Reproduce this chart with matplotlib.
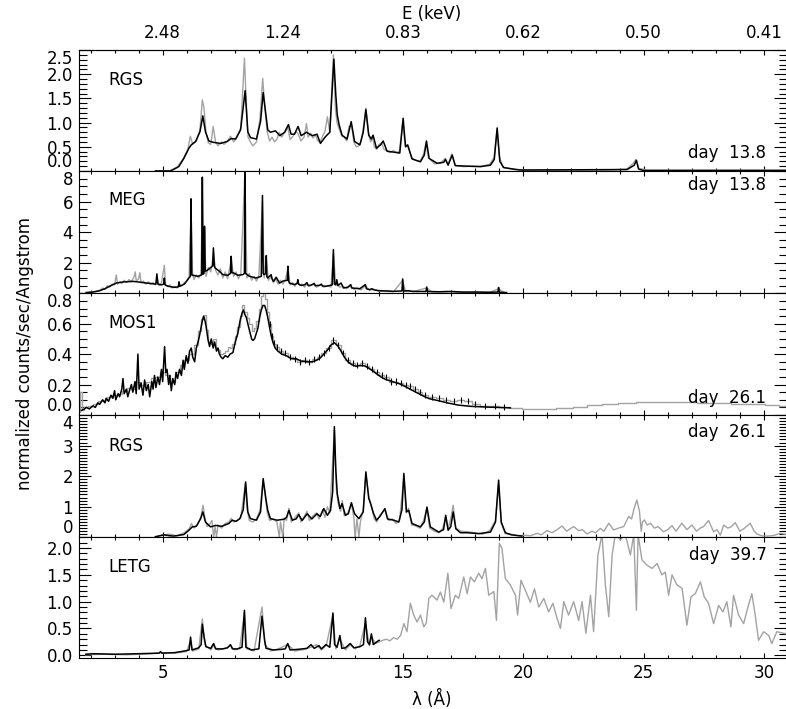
#!/usr/bin/python3
#Stacked X-ray spectra (RGS / MEG / MOS1 / RGS / LETG), wavelength on x, energy on top.

import numpy as np
import matplotlib
matplotlib.use('Agg')
import matplotlib.pyplot as plt
from matplotlib.ticker import MultipleLocator

###########################################################################
#### START - Data (lambda in Angstrom, normalized counts/sec/Angstrom). ####
LAM_LIMITS = (1.5, 30.9)
E_TICK_LAM = [5, 10, 15, 20, 25, 30]
E_TICK_LABELS = ['2.48', '1.24', '0.83', '0.62', '0.50', '0.41']

#Panel #1 : RGS day 13.8
rgs1_black = np.array([
    (4.70, 0.00), (5.33, 0.00), (5.67, 0.09), (5.88, 0.26), (6.09, 0.47), (6.19, 0.54), (6.37, 0.61),
    (6.55, 0.81), (6.67, 1.14), (6.78, 0.81), (6.92, 0.62), (7.13, 0.59), (7.41, 0.57), (7.68, 0.61),
    (7.85, 0.67), (8.03, 0.66), (8.24, 0.85), (8.43, 1.66), (8.54, 0.81), (8.65, 0.69), (8.90, 0.66),
    (9.07, 1.02), (9.18, 1.62), (9.29, 1.17), (9.37, 0.85), (9.48, 0.80), (9.69, 0.83), (9.87, 0.73),
    (10.07, 0.80), (10.23, 0.96), (10.34, 0.76), (10.48, 0.76), (10.63, 0.92), (10.76, 0.73), (10.98, 0.80),
    (11.22, 0.73), (11.42, 0.76), (11.56, 0.57), (11.77, 0.71), (11.95, 0.80), (12.12, 2.31), (12.20, 1.57),
    (12.26, 1.16), (12.34, 0.95), (12.46, 0.74), (12.67, 0.66), (12.84, 1.02), (12.98, 0.61), (13.20, 0.54),
    (13.34, 0.80), (13.45, 1.27), (13.57, 0.74), (13.68, 0.66), (13.75, 0.74), (13.89, 0.47), (14.06, 0.54),
    (14.17, 0.62), (14.33, 0.41), (14.61, 0.39), (14.86, 0.37), (15.00, 1.09), (15.10, 0.50), (15.19, 0.54),
    (15.37, 0.25), (15.72, 0.19), (15.88, 0.33), (15.97, 0.62), (16.08, 0.26), (16.41, 0.16), (16.69, 0.18),
    (16.76, 0.24), (16.87, 0.12), (17.04, 0.33), (17.17, 0.11), (17.66, 0.10), (18.21, 0.09), (18.63, 0.12),
    (18.79, 0.24), (18.91, 0.89), (19.02, 0.20), (19.18, 0.07), (19.87, 0.02), (24.31, 0.03), (24.61, 0.12),
    (24.70, 0.22), (24.79, 0.04), (25.00, 0.01), (30.90, 0.01)])
rgs1_grey = np.array([
    (4.70, 0.00), (5.30, 0.01), (5.60, 0.08), (5.85, 0.25), (6.05, 0.45), (6.15, 0.72), (6.25, 0.55),
    (6.40, 0.62), (6.55, 0.85), (6.65, 1.47), (6.72, 1.30), (6.80, 0.80), (6.90, 0.58), (7.00, 0.55),
    (7.10, 0.92), (7.20, 0.60), (7.30, 0.52), (7.45, 0.60), (7.55, 0.55), (7.70, 0.62), (7.82, 0.72),
    (7.95, 0.60), (8.10, 0.70), (8.25, 0.90), (8.40, 2.33), (8.47, 1.50), (8.55, 0.70), (8.65, 0.60),
    (8.75, 0.52), (8.90, 0.60), (9.05, 1.10), (9.16, 1.91), (9.25, 1.30), (9.35, 0.80), (9.45, 0.62),
    (9.55, 0.70), (9.65, 0.60), (9.75, 0.66), (9.85, 0.80), (9.95, 0.70), (10.05, 0.78), (10.20, 0.90),
    (10.30, 0.65), (10.42, 0.72), (10.55, 0.82), (10.65, 0.75), (10.75, 0.62), (10.88, 0.70), (10.98, 0.98),
    (11.05, 0.70), (11.15, 0.78), (11.25, 0.68), (11.35, 0.75), (11.45, 0.62), (11.55, 0.60), (11.65, 0.72),
    (11.75, 0.82), (11.85, 1.12), (11.95, 0.80), (12.10, 2.40), (12.18, 1.30), (12.25, 1.00), (12.35, 0.85),
    (12.45, 0.72), (12.55, 0.70), (12.65, 0.62), (12.75, 0.92), (12.85, 0.95), (12.95, 0.60), (13.05, 0.50),
    (13.15, 0.52), (13.25, 0.60), (13.35, 0.90), (13.45, 1.30), (13.55, 0.80), (13.65, 0.60), (13.72, 0.72),
    (13.80, 0.50), (13.90, 0.45), (14.00, 0.55), (14.10, 0.58), (14.20, 0.45), (14.30, 0.42), (14.45, 0.38),
    (14.60, 0.42), (14.75, 0.38), (14.85, 0.42), (14.98, 1.00), (15.08, 0.55), (15.20, 0.50), (15.35, 0.28),
    (15.50, 0.22), (15.70, 0.20), (15.85, 0.35), (15.95, 0.58), (16.05, 0.28), (16.30, 0.15), (16.55, 0.16),
    (16.75, 0.26), (16.87, 0.14), (17.02, 0.35), (17.15, 0.12), (17.50, 0.09), (17.90, 0.10), (18.30, 0.10),
    (18.60, 0.14), (18.78, 0.28), (18.90, 0.85), (19.00, 0.30), (19.15, 0.08), (19.60, 0.03), (20.50, 0.02),
    (22.00, 0.02), (23.50, 0.02), (24.30, 0.04), (24.55, 0.15), (24.68, 0.24), (24.80, 0.05), (25.20, 0.02),
    (27.00, 0.02), (29.00, 0.02), (30.90, 0.02)])

#Panel #2 : MEG day 13.8
meg_black = np.array([
    (1.82, 0.05), (2.10, 0.08), (2.38, 0.17), (2.60, 0.30), (2.79, 0.46), (3.07, 0.67), (3.35, 0.74),
    (3.76, 0.78), (4.00, 0.74), (4.32, 0.67), (4.60, 0.62), (4.72, 0.60), (4.76, 1.27), (4.80, 0.60),
    (4.95, 0.55), (5.04, 0.60), (5.07, 1.00), (5.10, 0.55), (5.22, 0.46), (5.49, 0.39), (5.65, 0.42),
    (5.68, 0.75), (5.71, 0.45), (5.91, 0.61), (6.09, 1.00), (6.15, 1.10), (6.18, 6.18), (6.21, 1.20),
    (6.26, 1.18), (6.46, 1.11), (6.62, 1.20), (6.65, 7.60), (6.68, 1.25), (6.72, 1.30), (6.74, 4.39),
    (6.77, 1.45), (6.85, 1.50), (6.98, 1.66), (7.08, 1.80), (7.11, 2.97), (7.15, 1.75), (7.18, 1.66),
    (7.36, 1.44), (7.50, 1.22), (7.71, 1.18), (7.82, 1.30), (7.85, 2.42), (7.88, 1.35), (7.95, 1.33),
    (8.13, 1.18), (8.33, 1.22), (8.40, 1.30), (8.42, 8.60), (8.44, 1.30), (8.47, 1.27), (8.61, 1.11),
    (8.89, 1.00), (9.10, 1.11), (9.15, 6.40), (9.18, 1.30), (9.21, 1.22), (9.29, 1.30), (9.31, 2.47),
    (9.33, 1.10), (9.37, 1.00), (9.51, 1.22), (9.55, 0.95), (9.61, 0.78), (9.72, 1.05), (9.86, 0.67),
    (10.00, 0.80), (10.18, 0.85), (10.21, 1.77), (10.24, 0.80), (10.27, 0.67), (10.48, 0.57), (10.60, 0.65),
    (10.62, 0.89), (10.65, 0.60), (10.76, 0.52), (10.90, 0.55), (11.00, 0.70), (11.05, 0.50), (11.20, 0.55),
    (11.30, 0.65), (11.35, 0.50), (11.52, 0.52), (11.60, 0.60), (11.65, 0.48), (11.80, 0.46), (12.05, 0.55),
    (12.10, 2.86), (12.14, 0.60), (12.19, 0.57), (12.24, 0.89), (12.28, 0.50), (12.42, 0.67), (12.52, 0.35),
    (12.70, 0.40), (12.82, 0.57), (12.86, 0.35), (13.00, 0.33), (13.20, 0.30), (13.43, 0.57), (13.47, 0.30),
    (13.60, 0.24), (13.70, 0.30), (13.80, 0.22), (14.02, 0.17), (14.30, 0.15), (14.57, 0.13), (14.95, 0.15),
    (14.98, 0.94), (15.02, 0.15), (15.20, 0.17), (15.40, 0.12), (15.70, 0.12), (15.95, 0.12), (15.98, 0.41),
    (16.02, 0.12), (16.50, 0.10), (17.00, 0.12), (17.50, 0.08), (18.00, 0.08), (18.50, 0.07), (18.94, 0.08),
    (18.97, 0.38), (19.00, 0.07), (19.30, 0.05)])
meg_grey = np.array([
    (1.80, 0.00), (2.00, 0.10), (2.20, 0.12), (2.40, 0.20), (2.50, 0.35), (2.60, 0.25), (2.70, 0.50),
    (2.80, 0.40), (2.90, 0.60), (3.00, 0.55), (3.07, 1.20), (3.12, 0.60), (3.20, 0.75), (3.30, 0.65),
    (3.40, 0.85), (3.50, 0.70), (3.60, 0.90), (3.70, 0.75), (3.80, 1.05), (3.86, 1.40), (3.90, 0.80),
    (4.00, 0.95), (4.05, 1.35), (4.10, 0.70), (4.20, 0.80), (4.30, 0.60), (4.40, 0.75), (4.50, 0.60),
    (4.60, 0.70), (4.70, 0.55), (4.76, 1.10), (4.85, 0.50), (4.95, 0.70), (5.07, 1.83), (5.12, 0.55),
    (5.20, 0.45), (5.30, 0.55), (5.40, 0.35), (5.50, 0.45), (5.60, 0.35), (5.70, 0.60), (5.80, 0.50),
    (5.90, 0.70), (6.00, 0.80), (6.10, 1.10), (6.18, 5.60), (6.24, 1.30), (6.30, 0.90), (6.40, 1.20),
    (6.50, 1.00), (6.60, 1.30), (6.65, 7.30), (6.70, 1.50), (6.74, 4.00), (6.80, 1.10), (6.90, 1.70),
    (7.00, 1.40), (7.05, 1.90), (7.11, 2.70), (7.20, 1.50), (7.30, 1.20), (7.40, 1.60), (7.50, 1.00),
    (7.60, 1.40), (7.70, 0.95), (7.85, 2.20), (7.95, 1.10), (8.05, 1.40), (8.15, 0.95), (8.25, 1.30),
    (8.42, 8.00), (8.50, 1.00), (8.60, 1.30), (8.70, 0.85), (8.80, 1.10), (8.90, 0.80), (9.00, 1.15),
    (9.15, 6.00), (9.22, 1.00), (9.31, 2.20), (9.40, 0.85), (9.50, 1.10), (9.60, 0.70), (9.70, 0.95),
    (9.80, 0.60), (9.90, 0.85), (10.00, 0.60), (10.10, 0.90), (10.21, 1.60), (10.30, 0.55), (10.40, 0.70),
    (10.50, 0.45), (10.62, 0.80), (10.70, 0.50), (10.80, 0.60), (10.90, 0.40), (11.00, 0.65), (11.10, 0.45),
    (11.25, 0.60), (11.40, 0.40), (11.55, 0.55), (11.70, 0.40), (11.85, 0.50), (12.00, 0.40), (12.10, 2.60),
    (12.20, 0.50), (12.24, 0.80), (12.35, 0.40), (12.50, 0.45), (12.65, 0.30), (12.82, 0.50), (12.95, 0.25),
    (13.10, 0.35), (13.25, 0.22), (13.43, 0.50), (13.60, 0.20), (13.80, 0.25), (14.00, 0.12), (14.30, 0.18),
    (14.60, 0.10), (14.98, 0.85), (15.10, 0.12), (15.50, 0.15), (15.98, 0.35), (16.20, 0.08), (16.80, 0.12),
    (17.40, 0.06), (18.00, 0.09), (18.60, 0.05), (18.97, 0.30), (19.20, 0.04)])

#Panel #3 : MOS1 day 26.1
mos1_black = np.array([
    (1.62, 0.03), (1.75, 0.04), (1.82, 0.05), (1.95, 0.04), (2.10, 0.06), (2.20, 0.05), (2.30, 0.08),
    (2.38, 0.07), (2.50, 0.10), (2.60, 0.08), (2.65, 0.11), (2.75, 0.09), (2.85, 0.13), (2.93, 0.11),
    (3.00, 0.16), (3.05, 0.10), (3.15, 0.14), (3.21, 0.12), (3.30, 0.17), (3.35, 0.24), (3.40, 0.14),
    (3.49, 0.17), (3.55, 0.12), (3.62, 0.16), (3.70, 0.20), (3.76, 0.15), (3.85, 0.22), (3.90, 0.14),
    (3.97, 0.40), (4.02, 0.17), (4.10, 0.21), (4.18, 0.13), (4.25, 0.23), (4.32, 0.16), (4.40, 0.20),
    (4.46, 0.12), (4.55, 0.22), (4.60, 0.17), (4.66, 0.26), (4.72, 0.18), (4.80, 0.25), (4.87, 0.20),
    (4.95, 0.30), (5.00, 0.22), (5.08, 0.45), (5.13, 0.28), (5.18, 0.30), (5.25, 0.20), (5.30, 0.26),
    (5.36, 0.16), (5.42, 0.24), (5.50, 0.20), (5.56, 0.28), (5.62, 0.24), (5.70, 0.30), (5.78, 0.26),
    (5.85, 0.36), (5.90, 0.30), (5.98, 0.39), (6.05, 0.34), (6.12, 0.42), (6.19, 0.44), (6.25, 0.38),
    (6.33, 0.35), (6.40, 0.44), (6.47, 0.48), (6.53, 0.52), (6.60, 0.58), (6.65, 0.62), (6.70, 0.65),
    (6.76, 0.62), (6.81, 0.58), (6.88, 0.50), (6.95, 0.45), (7.02, 0.50), (7.10, 0.44), (7.16, 0.48),
    (7.24, 0.42), (7.30, 0.44), (7.36, 0.40), (7.43, 0.38), (7.50, 0.37), (7.60, 0.39), (7.71, 0.38),
    (7.80, 0.40), (7.92, 0.41), (8.02, 0.48), (8.13, 0.54), (8.22, 0.62), (8.30, 0.67), (8.36, 0.69),
    (8.42, 0.66), (8.48, 0.64), (8.54, 0.60), (8.62, 0.55), (8.70, 0.50), (8.75, 0.49), (8.82, 0.50),
    (8.90, 0.54), (8.96, 0.57), (9.03, 0.64), (9.10, 0.69), (9.17, 0.72), (9.24, 0.72), (9.30, 0.69),
    (9.36, 0.65), (9.42, 0.60), (9.50, 0.53), (9.58, 0.48), (9.68, 0.44), (9.79, 0.42), (9.95, 0.40),
    (10.14, 0.39), (10.35, 0.37), (10.55, 0.37), (10.75, 0.355), (10.97, 0.35), (11.24, 0.35), (11.40, 0.36),
    (11.52, 0.37), (11.70, 0.40), (11.87, 0.43), (12.00, 0.46), (12.14, 0.475), (12.28, 0.455), (12.42, 0.42),
    (12.56, 0.38), (12.70, 0.35), (12.87, 0.33), (13.04, 0.32), (13.20, 0.325), (13.39, 0.323), (13.55, 0.31),
    (13.74, 0.29), (13.90, 0.27), (14.08, 0.25), (14.25, 0.235), (14.43, 0.226), (14.65, 0.215), (14.85, 0.205),
    (15.05, 0.19), (15.26, 0.172), (15.47, 0.155), (15.72, 0.135), (15.90, 0.12), (16.09, 0.107), (16.44, 0.095),
    (16.83, 0.08), (17.30, 0.065), (17.80, 0.057), (18.50, 0.052), (19.46, 0.047)])
mos1_grey = np.array([
    (1.55, 0.02), (1.60, 0.15), (1.65, 0.03), (1.80, 0.05), (2.00, 0.06), (2.20, 0.07), (2.40, 0.09),
    (2.60, 0.10), (2.80, 0.12), (3.00, 0.13), (3.20, 0.14), (3.40, 0.16), (3.60, 0.18), (3.80, 0.17),
    (4.00, 0.22), (4.20, 0.20), (4.40, 0.22), (4.60, 0.24), (4.80, 0.25), (5.00, 0.28), (5.20, 0.26),
    (5.40, 0.22), (5.60, 0.28), (5.80, 0.33), (6.00, 0.36), (6.20, 0.40), (6.40, 0.46), (6.55, 0.55),
    (6.65, 0.63), (6.75, 0.66), (6.85, 0.56), (6.95, 0.48), (7.05, 0.47), (7.15, 0.50), (7.25, 0.44),
    (7.35, 0.43), (7.45, 0.40), (7.55, 0.41), (7.65, 0.42), (7.75, 0.45), (7.85, 0.44), (7.95, 0.47),
    (8.05, 0.52), (8.15, 0.58), (8.25, 0.65), (8.35, 0.72), (8.45, 0.68), (8.55, 0.64), (8.65, 0.60),
    (8.75, 0.55), (8.85, 0.57), (8.95, 0.62), (9.05, 0.70), (9.12, 0.78), (9.20, 0.83), (9.28, 0.76),
    (9.36, 0.68), (9.45, 0.60), (9.55, 0.52), (9.65, 0.47), (9.75, 0.45), (9.90, 0.42), (10.10, 0.41),
    (10.30, 0.38), (10.50, 0.37), (10.70, 0.35), (10.90, 0.36), (11.10, 0.35), (11.30, 0.37), (11.50, 0.38),
    (11.70, 0.41), (11.90, 0.44), (12.10, 0.49), (12.30, 0.46), (12.50, 0.41), (12.70, 0.36), (12.90, 0.34),
    (13.10, 0.33), (13.30, 0.34), (13.50, 0.32), (13.70, 0.30), (13.90, 0.28), (14.10, 0.26), (14.30, 0.25),
    (14.50, 0.22), (14.70, 0.22), (14.90, 0.21), (15.10, 0.20), (15.30, 0.19), (15.50, 0.17), (15.70, 0.15),
    (15.90, 0.13), (16.20, 0.12), (16.50, 0.11), (16.80, 0.10), (17.10, 0.09), (17.40, 0.10), (17.70, 0.09),
    (18.00, 0.07), (18.40, 0.06), (18.80, 0.06), (19.20, 0.05), (19.60, 0.047), (20.30, 0.042), (21.00, 0.042),
    (21.70, 0.045), (22.40, 0.05), (22.90, 0.064), (23.60, 0.07), (24.30, 0.081), (25.10, 0.085), (26.00, 0.085),
    (26.80, 0.085), (27.60, 0.08), (28.30, 0.079), (29.00, 0.072), (29.70, 0.07), (30.40, 0.064), (30.90, 0.06)])
MOS1_ERR = 0.02

#Panel #4 : RGS day 26.1
rgs2_black = np.array([
    (4.70, 0.02), (5.05, 0.08), (5.30, 0.05), (5.47, 0.04), (5.88, 0.09), (6.09, 0.23), (6.23, 0.34),
    (6.40, 0.36), (6.58, 0.61), (6.67, 0.83), (6.78, 0.50), (6.99, 0.34), (7.20, 0.39), (7.45, 0.36),
    (7.75, 0.45), (7.89, 0.56), (8.05, 0.52), (8.21, 0.61), (8.35, 0.90), (8.45, 1.81), (8.54, 0.83),
    (8.65, 0.61), (8.90, 0.56), (9.07, 0.83), (9.18, 1.92), (9.29, 1.27), (9.37, 0.88), (9.48, 0.61),
    (9.76, 0.56), (10.04, 0.59), (10.15, 0.65), (10.25, 0.88), (10.39, 0.56), (10.55, 0.60), (10.66, 0.74),
    (10.80, 0.55), (11.01, 0.77), (11.20, 0.60), (11.42, 0.77), (11.55, 0.68), (11.70, 0.94), (11.85, 0.72),
    (11.98, 0.88), (12.07, 1.50), (12.14, 3.62), (12.20, 2.20), (12.26, 1.43), (12.37, 0.94), (12.46, 1.10),
    (12.60, 0.72), (12.72, 0.77), (12.85, 1.13), (12.98, 0.77), (13.16, 0.61), (13.34, 0.83), (13.45, 2.14),
    (13.57, 1.27), (13.67, 1.05), (13.76, 0.80), (13.89, 0.56), (14.05, 0.70), (14.24, 0.94), (14.35, 0.60),
    (14.61, 0.56), (14.82, 0.50), (14.95, 0.90), (15.03, 2.09), (15.14, 0.83), (15.23, 0.88), (15.37, 0.45),
    (15.72, 0.34), (15.88, 0.50), (15.99, 0.99), (16.13, 0.34), (16.48, 0.17), (16.68, 0.25), (16.77, 0.72),
    (16.87, 0.23), (16.98, 0.35), (17.08, 0.83), (17.19, 0.28), (17.38, 0.15), (17.66, 0.15), (18.14, 0.12),
    (18.63, 0.17), (18.84, 0.50), (18.97, 1.87), (19.08, 0.50), (19.25, 0.15), (19.50, 0.08), (19.94, 0.04)])
rgs2_grey = np.array([
    (4.70, 0.00), (5.00, 0.08), (5.30, 0.10), (5.60, 0.05), (5.90, 0.15), (6.10, 0.28), (6.20, 0.45),
    (6.30, 0.30), (6.45, 0.42), (6.60, 0.70), (6.68, 1.05), (6.76, 0.60), (6.85, 0.35), (6.95, 0.42),
    (7.05, 0.55), (7.12, 0.00), (7.18, 0.35), (7.24, 0.00), (7.30, 0.40), (7.45, 0.30), (7.60, 0.45),
    (7.75, 0.50), (7.85, 0.62), (7.95, 0.50), (8.10, 0.55), (8.25, 0.65), (8.44, 1.75), (8.50, 1.00),
    (8.60, 0.55), (8.75, 0.50), (8.90, 0.60), (9.05, 0.90), (9.17, 1.85), (9.26, 1.40), (9.35, 0.80),
    (9.45, 0.55), (9.60, 0.60), (9.75, 0.50), (9.85, 0.00), (9.90, 0.50), (10.00, 0.00), (10.05, 0.62),
    (10.15, 0.55), (10.25, 0.95), (10.35, 0.50), (10.50, 0.65), (10.66, 0.80), (10.75, 0.50), (10.90, 0.70),
    (11.00, 0.85), (11.10, 0.55), (11.25, 0.70), (11.40, 0.80), (11.50, 0.60), (11.65, 0.90), (11.75, 0.65),
    (11.85, 1.00), (11.95, 0.80), (12.14, 3.50), (12.22, 1.60), (12.30, 1.10), (12.40, 0.85), (12.47, 1.20),
    (12.55, 0.70), (12.70, 0.80), (12.85, 1.10), (12.95, 0.65), (13.00, 0.00), (13.08, 0.60), (13.16, 0.00),
    (13.22, 0.50), (13.34, 0.90), (13.45, 2.05), (13.57, 1.35), (13.68, 1.00), (13.80, 0.60), (13.90, 0.50),
    (14.05, 0.75), (14.25, 0.90), (14.40, 0.55), (14.55, 0.60), (14.70, 0.45), (14.85, 0.55), (15.03, 2.00),
    (15.12, 0.80), (15.23, 0.95), (15.35, 0.40), (15.50, 0.38), (15.70, 0.30), (15.85, 0.55), (15.99, 0.95),
    (16.10, 0.30), (16.30, 0.20), (16.50, 0.15), (16.65, 0.30), (16.77, 0.65), (16.87, 0.30), (16.98, 0.60),
    (17.08, 1.05), (17.19, 0.30), (17.40, 0.20), (17.70, 0.18), (18.00, 0.15), (18.30, 0.10), (18.60, 0.22),
    (18.84, 0.55), (18.97, 1.70), (19.08, 0.45), (19.25, 0.12), (19.50, 0.10), (19.80, 0.05), (20.00, 0.07),
    (20.30, 0.05), (20.57, 0.13), (20.75, 0.08), (20.98, 0.22), (21.20, 0.15), (21.40, 0.25), (21.61, 0.37),
    (21.80, 0.20), (21.95, 0.28), (22.09, 0.35), (22.30, 0.22), (22.45, 0.25), (22.65, 0.11), (22.85, 0.20),
    (23.00, 0.15), (23.20, 0.29), (23.35, 0.20), (23.55, 0.46), (23.75, 0.24), (23.95, 0.30), (24.17, 0.35),
    (24.38, 0.68), (24.50, 0.60), (24.59, 0.90), (24.72, 1.22), (24.83, 0.84), (24.90, 0.20), (24.95, 0.50),
    (25.03, 0.57), (25.15, 0.40), (25.28, 0.46), (25.45, 0.30), (25.60, 0.35), (25.83, 0.18), (26.00, 0.25),
    (26.18, 0.38), (26.35, 0.20), (26.59, 0.46), (26.80, 0.25), (27.01, 0.40), (27.20, 0.20), (27.35, 0.30),
    (27.49, 0.35), (27.70, 0.55), (27.91, 0.18), (28.05, 0.25), (28.19, 0.07), (28.33, 0.40), (28.50, 0.30),
    (28.65, 0.35), (28.81, 0.48), (29.00, 0.20), (29.20, 0.30), (29.43, 0.46), (29.60, 0.20), (29.71, 0.11),
    (29.90, 0.05), (30.13, 0.04), (30.40, 0.06), (30.68, 0.13), (30.90, 0.10)])

#Panel #5 : LETG day 39.7
letg_black = np.array([
    (1.80, 0.02), (2.11, 0.03), (3.00, 0.02), (4.00, 0.03), (4.85, 0.04), (4.91, 0.07), (4.97, 0.04),
    (5.50, 0.05), (5.90, 0.08), (6.10, 0.10), (6.16, 0.34), (6.22, 0.10), (6.50, 0.14), (6.60, 0.20),
    (6.65, 0.58), (6.72, 0.35), (6.80, 0.16), (7.00, 0.13), (7.12, 0.22), (7.20, 0.12), (7.50, 0.12),
    (7.70, 0.14), (7.82, 0.20), (7.90, 0.12), (8.10, 0.12), (8.30, 0.15), (8.40, 0.84), (8.46, 0.15),
    (8.70, 0.10), (9.00, 0.12), (9.13, 0.73), (9.24, 0.28), (9.30, 0.13), (9.60, 0.10), (9.90, 0.11),
    (10.10, 0.12), (10.20, 0.22), (10.30, 0.10), (10.60, 0.11), (11.00, 0.13), (11.17, 0.20), (11.30, 0.13),
    (11.50, 0.18), (11.60, 0.12), (11.79, 0.20), (11.95, 0.15), (12.08, 0.79), (12.15, 0.20), (12.25, 0.15),
    (12.37, 0.37), (12.45, 0.13), (12.60, 0.14), (12.80, 0.22), (12.95, 0.14), (13.20, 0.16), (13.35, 0.20),
    (13.43, 0.70), (13.52, 0.25), (13.60, 0.20), (13.68, 0.40), (13.76, 0.20), (13.90, 0.25), (14.00, 0.28)])
letg_grey = np.array([
    (1.80, 0.01), (2.50, 0.02), (3.50, 0.01), (4.50, 0.03), (5.00, 0.05), (5.50, 0.04), (6.00, 0.07),
    (6.16, 0.28), (6.25, 0.08), (6.50, 0.12), (6.65, 0.68), (6.75, 0.20), (7.00, 0.10), (7.12, 0.18),
    (7.30, 0.10), (7.60, 0.13), (7.82, 0.18), (8.00, 0.10), (8.20, 0.12), (8.40, 0.80), (8.50, 0.12),
    (8.80, 0.08), (9.13, 0.90), (9.25, 0.20), (9.50, 0.08), (9.80, 0.12), (10.20, 0.20), (10.50, 0.08),
    (10.80, 0.10), (11.17, 0.15), (11.40, 0.20), (11.60, 0.10), (11.80, 0.18), (12.08, 0.75), (12.20, 0.12),
    (12.37, 0.30), (12.60, 0.10), (12.80, 0.20), (13.00, 0.12), (13.20, 0.18), (13.43, 0.60), (13.60, 0.18),
    (13.68, 0.35), (13.85, 0.22), (14.00, 0.25), (14.15, 0.28), (14.30, 0.30), (14.45, 0.27), (14.60, 0.33),
    (14.75, 0.30), (14.89, 0.37), (15.03, 0.59), (15.16, 0.44), (15.30, 0.97), (15.44, 0.75), (15.58, 0.62),
    (15.72, 0.75), (15.86, 0.53), (15.96, 0.60), (16.07, 1.06), (16.20, 1.12), (16.41, 1.03), (16.55, 1.18),
    (16.69, 0.99), (16.86, 1.53), (16.99, 0.87), (17.17, 1.12), (17.31, 1.06), (17.52, 1.46), (17.66, 1.15),
    (17.80, 1.46), (17.96, 1.37), (18.14, 1.53), (18.28, 1.43), (18.42, 1.62), (18.56, 1.12), (18.77, 1.19),
    (18.88, 0.65), (19.00, 2.09), (19.11, 1.99), (19.25, 1.43), (19.46, 1.31), (19.67, 1.12), (19.76, 0.75),
    (19.90, 1.40), (20.08, 1.21), (20.29, 0.99), (20.46, 1.24), (20.64, 0.90), (20.85, 1.06), (21.05, 0.81),
    (21.23, 0.97), (21.40, 0.69), (21.54, 0.50), (21.68, 1.00), (21.88, 0.75), (22.09, 1.00), (22.30, 0.65),
    (22.44, 1.00), (22.60, 0.41), (22.79, 1.12), (22.92, 0.44), (23.10, 1.87), (23.27, 2.25), (23.41, 1.31),
    (23.55, 0.72), (23.69, 1.87), (23.82, 2.25), (24.03, 2.15), (24.24, 2.25), (24.45, 1.87), (24.59, 2.25),
    (24.70, 0.84), (24.77, 2.25), (24.93, 1.78), (25.14, 1.68), (25.35, 1.62), (25.56, 1.71), (25.76, 1.50),
    (25.90, 1.55), (26.04, 1.12), (26.18, 1.50), (26.39, 1.31), (26.60, 1.25), (26.80, 0.56), (26.97, 1.09),
    (27.15, 1.15), (27.36, 1.37), (27.52, 1.09), (27.70, 0.97), (27.91, 0.59), (28.12, 0.93), (28.30, 0.81),
    (28.46, 1.00), (28.63, 0.53), (28.74, 1.12), (28.95, 0.75), (29.16, 0.59), (29.32, 0.87), (29.50, 1.15),
    (29.64, 0.75), (29.78, 0.28), (29.99, 0.44), (30.20, 0.37), (30.33, 0.22), (30.54, 0.44), (30.93, 0.40)])

PANEL_NAMES = ['RGS', 'MEG', 'MOS1', 'RGS', 'LETG']
PANEL_DAYS  = ['day  13.8', 'day  13.8', 'day  26.1', 'day  26.1', 'day  39.7']
###### END - Data. ####

###########################################################################
#### START - Layout (pixel rows of the panel edges in a 786x709 picture). ####
FIG_W, FIG_H = 786, 709
AX_LEFT, AX_RIGHT = 78.5, 785.5
PANEL_ROWS = [50, 171, 293.3, 415, 537.3, 658]
Y_LIMITS = [(0, 2.5), (0, 8), (0, 0.8), (0, 4), (-0.05, 2.2)]
Y_MAJOR  = [0.5, 2, 0.2, 1, 0.5]
Y_MINOR  = [0.1, 0.5, 0.05, 0.1, 0.1]
Y_FMT    = ['%.1f', '%d', '%.1f', '%d', '%.1f']
NAME_Y   = [0.75, 0.76, 0.756, 0.75, 0.754]
DAY_Y    = [0.149, 0.886, 0.14, 0.86, 0.853]
GREY_STYLE = ['line', 'line', 'step', 'line', 'line']
GREY = '#a3a3a3'
FS = 12

plt.rcParams['font.family'] = ['DejaVu Sans']
fig = plt.figure(figsize=(FIG_W / 100.0, FIG_H / 100.0), dpi=100)

axes = []
for i in range(5):
    top, bot = PANEL_ROWS[i], PANEL_ROWS[i + 1]
    rect = [AX_LEFT / FIG_W, 1 - bot / FIG_H, (AX_RIGHT - AX_LEFT) / FIG_W, (bot - top) / FIG_H]
    axes.append(fig.add_axes(rect))

series = [(rgs1_grey, rgs1_black), (meg_grey, meg_black), (mos1_grey, mos1_black),
          (rgs2_grey, rgs2_black), (letg_grey, letg_black)]

for i, ax in enumerate(axes):
    grey, black = series[i]
    if GREY_STYLE[i] == 'step':
        ax.plot(grey[:, 0], grey[:, 1], color=GREY, lw=1.0, drawstyle='steps-mid')
    else:
        ax.plot(grey[:, 0], grey[:, 1], color=GREY, lw=1.0)
    ax.plot(black[:, 0], black[:, 1], color='black', lw=1.1)

    ax.set_xlim(*LAM_LIMITS)
    ax.set_ylim(*Y_LIMITS[i])
    ax.xaxis.set_major_locator(MultipleLocator(5))
    ax.xaxis.set_minor_locator(MultipleLocator(1))
    lo, hi = Y_LIMITS[i]
    yt = np.arange(0, hi + 1e-9, Y_MAJOR[i])
    ax.set_yticks(yt, [Y_FMT[i] % v for v in yt])
    ax.yaxis.set_minor_locator(MultipleLocator(Y_MINOR[i]))
    ax.tick_params(which='both', direction='in', top=(i > 0), right=True, labelsize=FS)
    ax.tick_params(axis='x', which='major', length=3.8, width=0.8, pad=4)
    ax.tick_params(axis='x', which='minor', length=2.0, width=0.8)
    ax.tick_params(axis='y', which='major', length=8.6, width=0.8, pad=4)
    ax.tick_params(axis='y', which='minor', length=5.4, width=0.8)
    if i < 4:
        ax.tick_params(labelbottom=False)
    for sp in ax.spines.values():
        sp.set_linewidth(0.8)

    #### labels at the very edge of a panel are pushed inside it ####
    for tk, lab in zip(yt, ax.get_yticklabels()):
        if abs(tk - lo) < 1e-9:
            lab.set_va('bottom')
        elif abs(tk - hi) < 1e-9:
            lab.set_va('top')

    ax.text(0.042, NAME_Y[i], PANEL_NAMES[i], transform=ax.transAxes, fontsize=FS, va='center', ha='left')
    ax.text(0.973, DAY_Y[i], PANEL_DAYS[i], transform=ax.transAxes, fontsize=FS, va='center', ha='right')

#MOS1 error bars on the binned points.
sel = (mos1_grey[:, 0] > 9.4) & (mos1_grey[:, 0] < 19.3)
axes[2].errorbar(mos1_grey[sel, 0], mos1_grey[sel, 1], yerr=MOS1_ERR, fmt='none',
                 ecolor='black', elinewidth=0.8, capsize=0)

#### energy axis on top ####
secax = axes[0].secondary_xaxis('top')
secax.set_xticks(E_TICK_LAM, E_TICK_LABELS)
secax.xaxis.set_minor_locator(MultipleLocator(1))
secax.tick_params(which='both', direction='in', labelsize=FS, width=0.8)
secax.tick_params(which='major', length=3.8, pad=6)
secax.tick_params(which='minor', length=2.0)
secax.set_xlabel('E (keV)', fontsize=FS, labelpad=3)

axes[4].set_xlabel('\u03bb (\u00c5)', fontsize=FS, labelpad=6)
fig.text(25.0 / FIG_W, 1 - 354.0 / FIG_H, 'normalized counts/sec/Angstrom', rotation=90,
         fontsize=FS, va='center', ha='center')

fig.savefig('out.png', dpi=100)
